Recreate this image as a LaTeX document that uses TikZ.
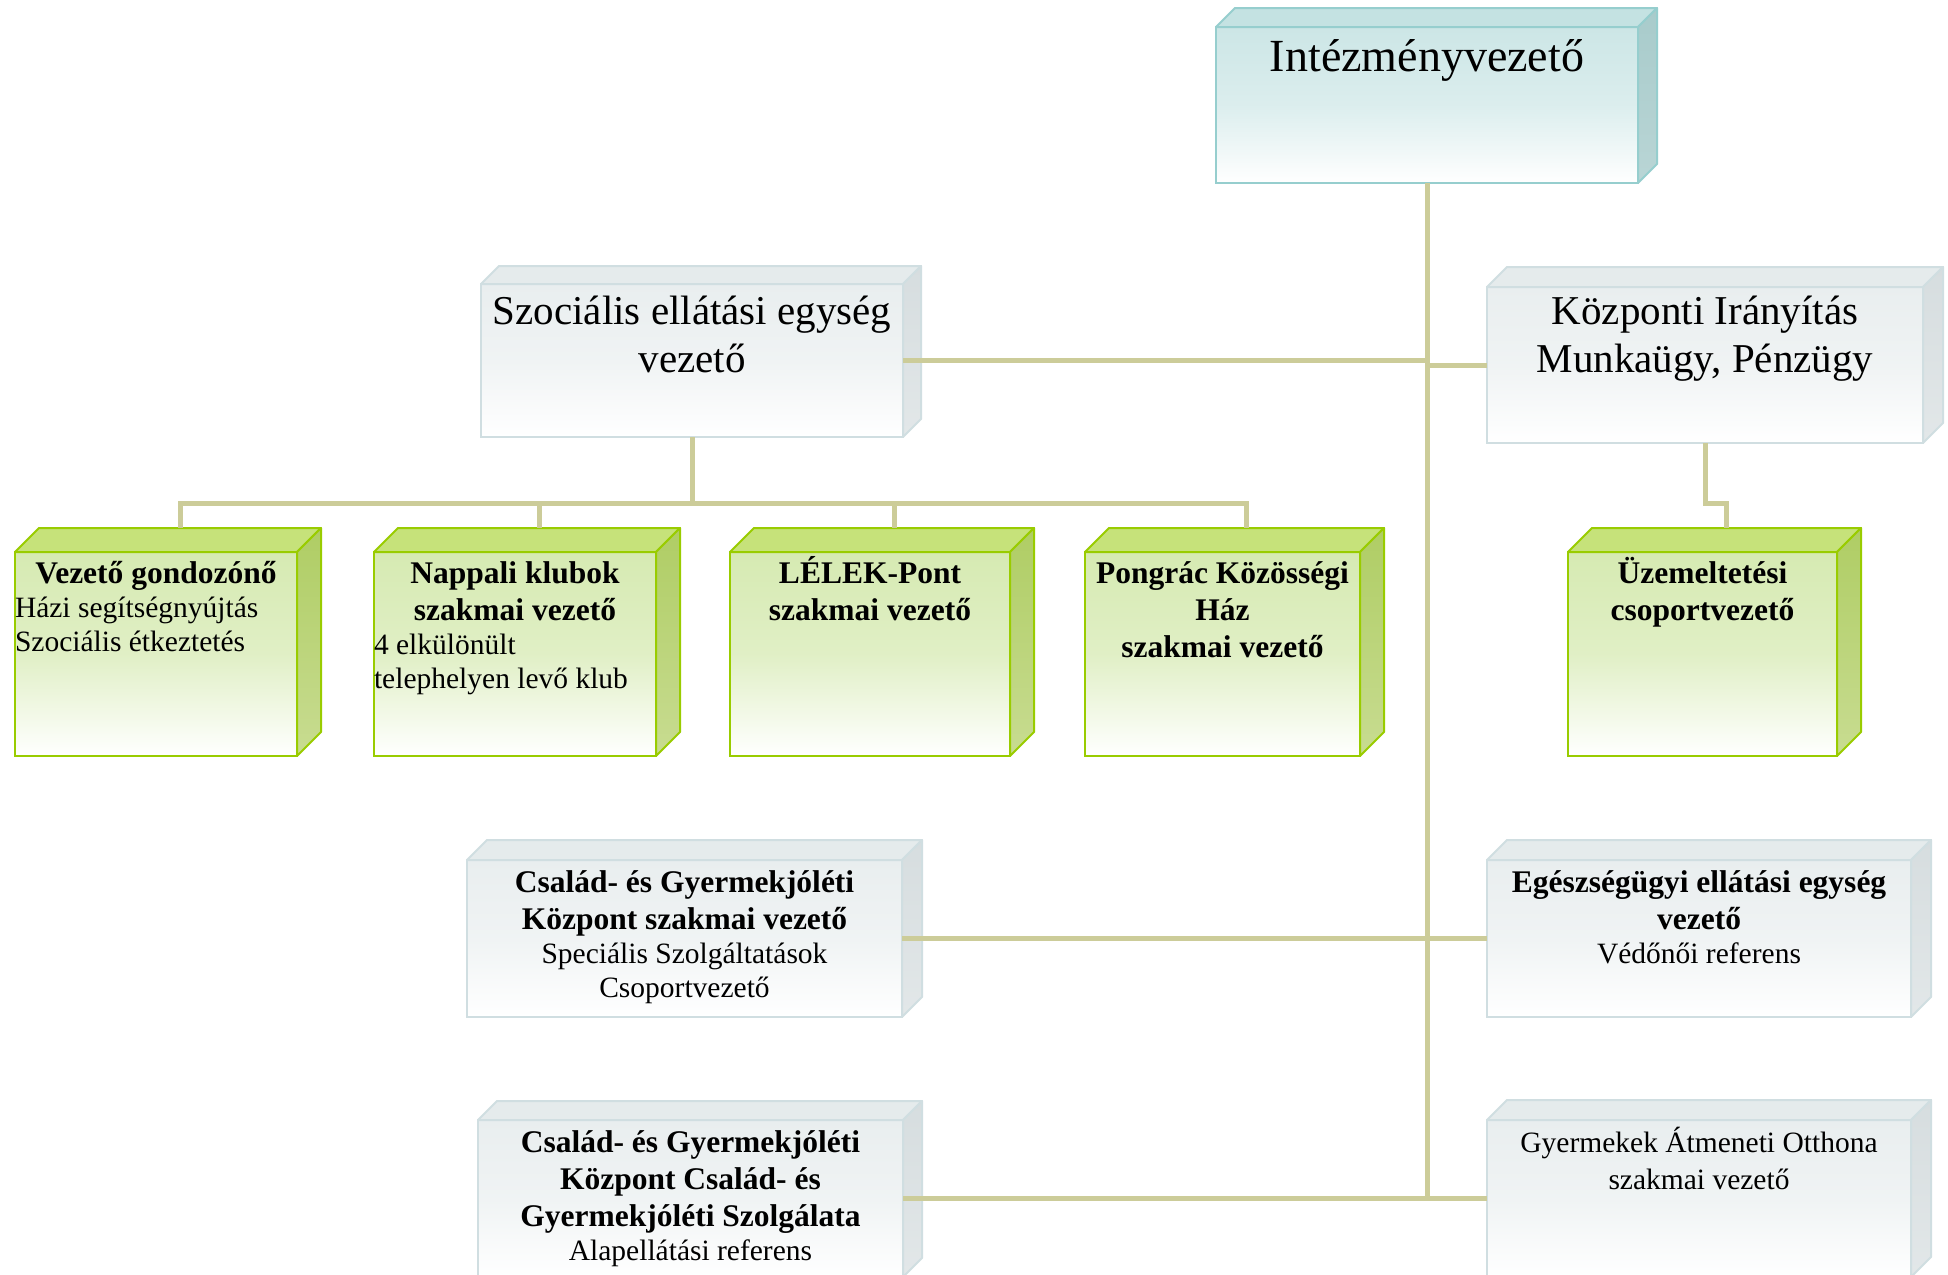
\documentclass[tikz,border=0pt]{standalone}
\usepackage{fontspec}
\setmainfont{Liberation Serif}
\usetikzlibrary{calc}
\definecolor{lineC}{RGB}{204,204,153}
\definecolor{tealLine}{RGB}{150,206,206}
\definecolor{tealFront}{RGB}{204,230,230}
\definecolor{tealTop}{RGB}{196,226,226}
\definecolor{tealSide}{RGB}{168,203,203}
\definecolor{grayLine}{RGB}{208,222,225}
\definecolor{grayFront}{RGB}{233,238,239}
\definecolor{grayTop}{RGB}{229,235,236}
\definecolor{graySide}{RGB}{214,221,223}
\definecolor{greenLine}{RGB}{153,204,0}
\definecolor{greenFront}{RGB}{214,234,178}
\definecolor{greenTop}{RGB}{198,226,122}
\definecolor{greenSide}{RGB}{175,205,100}
\definecolor{greenSideLo}{RGB}{200,220,145}

\newcommand{\boldln}{\fontsize{31.5}{37}\selectfont\bfseries}
\newcommand{\plainln}{\fontsize{29.5}{34}\selectfont\mdseries}
\newcommand{\leftln}[1]{\makebox[\linewidth][l]{#1}}
\newcommand{\cubesides}[4]{% node, depth, top style, side style
  \draw[#3] (#1.north west) -- ++(#2,-#2) -- ($(#1.north east)+(#2,-#2)$) -- (#1.north east) -- cycle;
  \draw[#4] (#1.north east) -- ++(#2,-#2) -- ($(#1.south east)+(#2,-#2)$) -- (#1.south east) -- cycle;
}

\tikzset{
  sz/.style n args={3}{text width=#1pt, text height=#2pt, text depth=#3pt},
  face/.style={anchor=north west, inner sep=0pt, outer sep=0pt, align=flush center, line width=2pt, font=\plainln},
  tfront/.style={face, draw=tealLine, top color=tealFront, bottom color=white, middle color=tealFront!70!white},
  ttop/.style={fill=tealTop, draw=tealLine, line width=2pt, line join=round},
  tside/.style={top color=tealSide, bottom color=tealSide!80!white, draw=tealLine, line width=2pt, line join=round},
  wfront/.style={face, draw=grayLine, top color=grayFront, bottom color=white, middle color=grayFront!70!white},
  wtop/.style={fill=grayTop, draw=grayLine, line width=2pt, line join=round},
  wside/.style={top color=graySide, bottom color=graySide!70!white, draw=grayLine, line width=2pt, line join=round},
  gfront/.style={face, draw=greenLine, top color=greenFront, bottom color=white, middle color=greenFront!75!white},
  gtop/.style={fill=greenTop, draw=greenLine, line width=2pt, line join=round},
  gside/.style={top color=greenSide, bottom color=greenSideLo, draw=greenLine, line width=2pt, line join=round},
  conn/.style={draw=lineC, line width=5pt},
}

\begin{document}
\begin{tikzpicture}[x=1pt, y=-1pt]
  \fill[white] (0,0) rectangle (1948,1274);
  \useasboundingbox (0,0) rectangle (1948,1274);

  \node[tfront, sz={422}{44}{112}, font=\fontsize{46}{50}\selectfont] (top) at (1216,27) {Intézményvezető};
  \cubesides{top}{19}{ttop}{tside}

  \node[wfront, sz={422}{40}{113}, font=\fontsize{41}{48}\selectfont] (szoc) at (481,284) {Szociális ellátási egység\\vezető};
  \cubesides{szoc}{18}{wtop}{wside}
  \node[wfront, sz={436}{37}{119}, font=\fontsize{41}{48}\selectfont] (kozp) at (1487,287) {Központi Irányítás\\Munkaügy, Pénzügy};
  \cubesides{kozp}{20}{wtop}{wside}

  \node[gfront, sz={282}{31}{173}] (gond) at (15,552) {{\boldln Vezető gondozónő\par}\leftln{Házi segítségnyújtás}\\\leftln{Szociális étkeztetés}};
  \node[gfront, sz={282}{31}{173}] (napp) at (374,552) {{\boldln Nappali klubok\\szakmai vezető\par}\leftln{4 elkülönült}\\\leftln{telephelyen levő klub}};
  \node[gfront, sz={280}{31}{173}] (lelek) at (730,552) {{\boldln LÉLEK-Pont\\szakmai vezető\par}};
  \node[gfront, sz={275}{31}{173}] (pongr) at (1085,552) {{\boldln Pongrác Közösségi\\Ház\\szakmai vezető\par}};
  \node[gfront, sz={269}{31}{173}] (uzem) at (1568,552) {{\boldln Üzemeltetési\\csoportvezető\par}};
  \foreach \n in {gond,napp,lelek,pongr,uzem} {
    \cubesides{\n}{24}{gtop}{gside}
    \coordinate (\n-t) at ($(\n.north)+(24,-24)$);
  }

  \node[wfront, sz={435}{32}{125}] (csgy1) at (467,860) {{\boldln Család- és Gyermekjóléti\\Központ szakmai vezető\par}Speciális Szolgáltatások\\Csoportvezető};
  \cubesides{csgy1}{20}{wtop}{wside}
  \node[wfront, sz={424}{32}{125}] (egesz) at (1487,860) {{\boldln Egészségügyi ellátási egység\\vezető\par}Védőnői referens};
  \cubesides{egesz}{20}{wtop}{wside}
  \node[wfront, sz={425}{32}{125}] (csgy2) at (478,1120) {{\boldln Család- és Gyermekjóléti\\Központ Család- és\\Gyermekjóléti Szolgálata\par}Alapellátási referens};
  \cubesides{csgy2}{19}{wtop}{wside}
  \node[wfront, sz={424}{32}{125}, font=\fontsize{29.5}{37}\selectfont] (gyerm) at (1487,1120) {Gyermekek Átmeneti Otthona\\szakmai vezető};
  \cubesides{gyerm}{20}{wtop}{wside}

  \coordinate (bus) at (0,503);
  \draw[conn] (top.south) -- (top.south |- csgy2.east);
  \draw[conn] (szoc.east) -- (szoc.east -| top.south);
  \draw[conn] (kozp.west) -- (kozp.west -| top.south);
  \draw[conn] (csgy1.east) -- (egesz.west);
  \draw[conn] (csgy2.east) -- (gyerm.west);
  \draw[conn] (szoc.south) -- (szoc.south |- bus);
  \draw[conn] (gond-t) -- (gond-t |- bus) -- (pongr-t |- bus) -- (pongr-t);
  \foreach \n in {napp,lelek} \draw[conn] (\n-t) -- (\n-t |- bus);
  \draw[conn] (kozp.south) -- (kozp.south |- bus) -- (uzem-t |- bus) -- (uzem-t);
\end{tikzpicture}
\end{document}
